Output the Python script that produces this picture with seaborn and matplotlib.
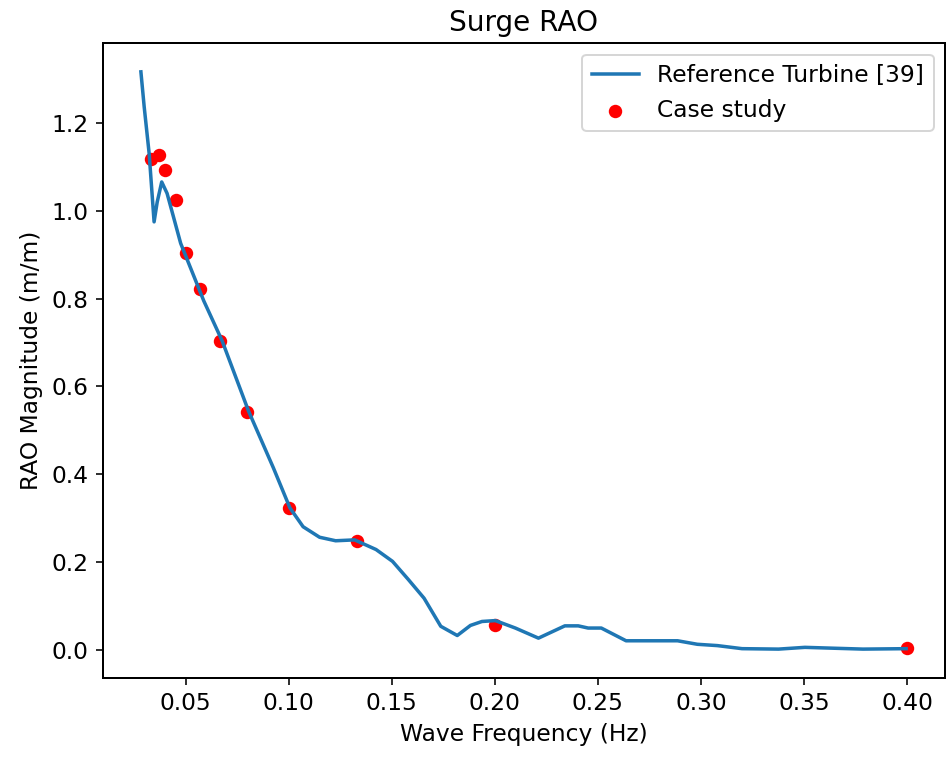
import matplotlib
matplotlib.use("Agg")
import matplotlib.pyplot as plt
import seaborn as sns
import pandas as pd

# Reference turbine RAO curve
ref_freq = [0.0283, 0.0299, 0.0323, 0.0347, 0.0362, 0.0384, 0.0410, 0.0476, 0.0588,
            0.0677, 0.0805, 0.0926, 0.1006, 0.1070, 0.1150, 0.1228, 0.1320, 0.1424,
            0.1504, 0.1580, 0.1657, 0.1738, 0.1818, 0.1882, 0.1938, 0.2003, 0.2100,
            0.2212, 0.2340, 0.2405, 0.2453, 0.2517, 0.2637, 0.2887, 0.2983, 0.3080,
            0.3200, 0.3377, 0.3505, 0.3787, 0.3996]
ref_rao = [1.317, 1.237, 1.131, 0.975, 1.020, 1.066, 1.040, 0.926, 0.795,
           0.704, 0.544, 0.414, 0.323, 0.280, 0.256, 0.248, 0.250, 0.228,
           0.201, 0.160, 0.117, 0.053, 0.032, 0.055, 0.064, 0.066, 0.049,
           0.026, 0.054, 0.054, 0.049, 0.049, 0.020, 0.020, 0.012, 0.009,
           0.002, 0.001, 0.005, 0.001, 0.002]

# Case study points
case_freq = [1/30, 1/27, 1/25, 1/22, 1/20, 1/17.5, 1/15, 1/12.5, 1/10, 1/7.5, 1/5, 1/2.5]
case_rao = [1.119, 1.127, 1.094, 1.024, 0.904, 0.822, 0.704, 0.542, 0.323, 0.247, 0.057, 0.003]

ref_df = pd.DataFrame({"freq": ref_freq, "rao": ref_rao})
case_df = pd.DataFrame({"freq": case_freq, "rao": case_rao})

plt.rcParams.update({
    "font.size": 11.7,
    "axes.titlesize": 14,
    "axes.labelsize": 11.7,
    "xtick.labelsize": 11.7,
    "ytick.labelsize": 11.7,
    "legend.fontsize": 11.7,
    "axes.linewidth": 1.0,
})

dpi = 144
fig = plt.figure(figsize=(950 / dpi, 757 / dpi), dpi=dpi)
ax = fig.add_axes([0.108, 0.1044, 0.887, 0.8388])

sns.lineplot(data=ref_df, x="freq", y="rao", ax=ax, color="#1f77b4", linewidth=1.75,
             sort=False, label="Reference Turbine [39]")
sns.scatterplot(data=case_df, x="freq", y="rao", ax=ax, color="red", s=45,
                linewidth=0, label="Case study")

ax.set_title("Surge RAO")
ax.set_xlabel("Wave Frequency (Hz)")
ax.set_ylabel("RAO Magnitude (m/m)")
ax.legend(loc="upper right")

fig.savefig("out.png", dpi=dpi)
